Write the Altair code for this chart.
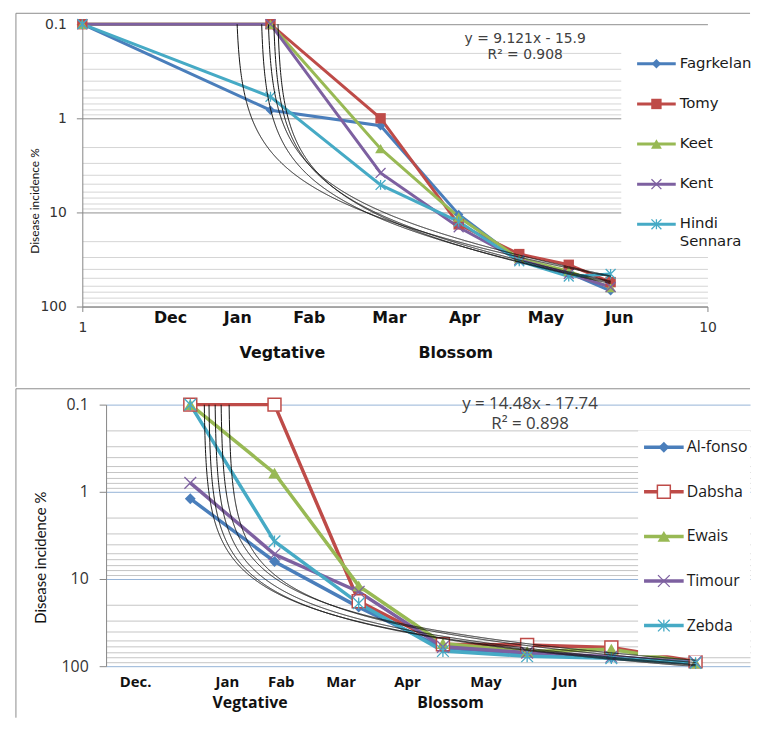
import altair as alt
import pandas as pd

# ---------------- top panel data ----------------
top_x = [1, 2, 3, 4, 5, 6, 7]
top_names = ["Fagrkelan", "Tomy", "Keet", "Kent", "Hindi Sennara"]
fagrkelan = [0.1, 0.82, 1.2, 10.5, 32, 44, 68]
tomy = [0.1, 0.1, 1.0, 13.4, 27.7, 36, 55]
keet = [0.1, 0.1, 2.1, 11.2, 31, 42, 63]
kent = [0.1, 0.1, 3.8, 14.4, 32, 45, 62]
hindi_sennara = [0.1, 0.59, 5.1, 12.5, 33, 48, 45]
top_months = ["Dec", "Jan", "Fab", "Mar", "Apr", "May", "Jun"]
top_month_x = [1.384, 1.773, 2.307, 3.099, 4.09, 5.516, 7.227]
top_stages = ["Vegtative", "Blossom"]
top_stage_x = [2.09, 3.958]
top_equation = ["y = 9.121x - 15.9", "R² = 0.908"]

# ---------------- bottom panel data ----------------
bot_x = [1, 2, 3, 4, 5, 6, 7]
bot_names = ["Al-fonso", "Dabsha", "Ewais", "Timour", "Zebda"]
al_fonso = [1.2, 6.3, 21, 62, 71, 80, 92]
dabsha = [0.1, 0.1, 18, 56, 57, 61, 88]
ewais = [0.1, 0.61, 12, 55, 68, 64, 92]
timour = [0.79, 5.2, 14, 60, 70, 78, 90]
zebda = [0.1, 3.7, 19, 67, 77, 81, 92]
bot_months = ["Dec.", "Jan", "Fab", "Mar", "Apr", "May", "Jun"]
bot_month_x = [0.35, 1.44, 2.08, 2.79, 3.58, 4.51, 5.45]
bot_stages = ["Vegtative", "Blossom"]
bot_stage_x = [1.71, 4.09]
bot_equation = ["y = 14.48x - 17.74", "R² = 0.898"]

# ---------------- axis ticks ----------------
major_ticks = [0.1, 1, 10, 100]
minor_mult = [2, 3, 4, 5, 6, 7, 8, 9]
grid_vals = sorted(major_ticks + [round(m * d, 6) for d in [0.1, 1, 10] for m in minor_mult])

colors = ["#4A7EBB", "#BE4B48", "#98B954", "#7D60A0", "#46AAC5"]
FRAME = "#8C8C8C"
MAJOR_TEST = "indexof([0.1, 1, 10, 100], datum.value) >= 0"
XPATH = "M-1,-1L1,1M-1,1L1,-1"
STARPATH = "M-1,-1L1,1M-1,1L1,-1M0,-1L0,1"


def long_df(names, xs, series):
    rows = []
    for n, vals in zip(names, series):
        for x, y in zip(xs, vals):
            rows.append({"series": n, "x": x, "y": y})
    return pd.DataFrame(rows)


def y_axis(font, size, pad, tick, major_col, minor_col, tfont, tsize, tx, ty):
    return alt.Axis(
        values=grid_vals,
        labelExpr=f"{MAJOR_TEST} ? format(datum.value, '~g') : ''",
        labelOverlap=False, labelFont=font, labelFontSize=size, labelColor="#333333",
        labelPadding=pad,
        tickSize={"condition": {"test": MAJOR_TEST, "value": tick}, "value": 0},
        tickColor="#868686", domainColor="#868686",
        gridColor={"condition": {"test": MAJOR_TEST, "value": major_col}, "value": minor_col},
        gridWidth=1,
        titleFont=tfont, titleFontSize=tsize, titleFontWeight="normal", titleColor="#111111",
        titleX=tx, titleY=ty, titleAngle=270, titleAlign="center", titleBaseline="middle",
    )


def make_panel(P):
    names = P["names"]
    df = long_df(names, P["x"], P["values"])

    def X(f):
        return alt.X(f, type="quantitative", scale=P["xscale"], axis=P["xaxis"], title=None)

    def Y(f):
        return alt.Y(f, type="quantitative", scale=P["yscale"], axis=P["yaxis"],
                     title="Disease incidence %")

    base = alt.Chart(df)
    frame = alt.Chart(alt.Data(values=[{}]))
    fx0, fx1, fy0, fy1 = P["frame"]
    top_rule = frame.mark_rule(color=FRAME, strokeWidth=1).encode(
        x=alt.value(fx0), x2=alt.value(fx1), y=alt.value(fy0))
    left_rule = frame.mark_rule(color=FRAME, strokeWidth=1).encode(
        x=alt.value(fx0), y=alt.value(fy0), y2=alt.value(fy1))

    lines = base.mark_line(strokeWidth=P["lw"]).encode(
        X("x"), Y("y"),
        color=alt.Color("series:N", scale=alt.Scale(domain=names, range=colors), legend=None),
        order="x:Q",
    )
    points = [
        base.transform_filter(alt.datum.series == n)
        .mark_point(opacity=1, color=c, **m)
        .encode(X("x"), Y("y"))
        for n, c, m in zip(names, colors, P["markers"])
    ]

    x0, x1 = min(P["x"]), max(P["x"])
    nstep = 3000
    step = (x1 - x0) / nstep
    trend = (
        base.transform_regression("x", "y", method="linear", groupby=["series"], params=True)
        .transform_calculate(grp="datum.keys[0]", seq=f"sequence(0, {nstep + 1})")
        .transform_flatten(["seq"])
        .transform_calculate(x=f"{x0} + datum.seq * {step}")
        .transform_calculate(y="datum.coef[0] + datum.coef[1] * datum.x")
        .transform_filter("datum.y > 0")
        .mark_line(color="#111111", strokeWidth=1, clip=True)
        .encode(X("x"), Y("y"), detail="grp:N")
    )

    months = alt.Chart(pd.DataFrame({"label": P["months"], "x": P["month_x"]})).mark_text(
        font=P["font"], fontSize=P["month_size"], fontWeight="bold", color="#111111",
        baseline="middle", align="center",
    ).encode(X("x"), y=alt.value(P["month_y"]), text="label:N")

    stages = alt.Chart(pd.DataFrame({"label": P["stages"], "x": P["stage_x"]})).mark_text(
        font=P["font"], fontSize=P["stage_size"], fontWeight="bold", color="#111111",
        baseline="middle", align="center",
    ).encode(X("x"), y=alt.value(P["stage_y"]), text="label:N")

    ex, ey = P["eq_pos"]
    eq = frame.mark_text(
        text=P["eq"], font=P["font"], fontSize=P["eq_size"], lineHeight=P["eq_lh"],
        color="#404040", baseline="middle", align="center",
    ).encode(
        x=alt.X(datum=ex, type="quantitative", scale=P["xscale"], axis=P["xaxis"], title=None),
        y=alt.Y(datum=ey, type="quantitative", scale=P["yscale"], axis=P["yaxis"],
                title="Disease incidence %"),
    )

    # legend box (Excel style: line with marker, label to the right)
    L = P["legend"]
    legend_layers = [frame.mark_rect(fill="white", stroke=None).encode(
        x=alt.value(L["box"][0]), x2=alt.value(L["box"][1]),
        y=alt.value(L["box"][2]), y2=alt.value(L["box"][3]))]
    sx0, sx1 = L["sym"]
    for i, (n, c, m) in enumerate(zip(names, colors, P["markers"])):
        yy = L["y0"] + i * L["dy"]
        legend_layers.append(frame.mark_rule(color=c, strokeWidth=P["lw"]).encode(
            x=alt.value(sx0), x2=alt.value(sx1), y=alt.value(yy)))
        legend_layers.append(frame.mark_point(opacity=1, color=c, **m).encode(
            x=alt.value((sx0 + sx1) / 2), y=alt.value(yy)))
        legend_layers.append(frame.mark_text(
            text=n.split(" "), align="left", baseline="line-top", lineHeight=L["lh"],
            dy=-L["lh"] / 2, font=P["font"], fontSize=L["size"], color="#1A1A1A",
        ).encode(x=alt.value(L["tx"]), y=alt.value(yy)))

    return alt.layer(top_rule, left_rule, lines, *points, trend, months, stages, eq,
                     *legend_layers).properties(width=P["w"], height=P["h"])


# ---------------- top panel ----------------
TW, TH = 631, 285
top_panel = make_panel(dict(
    names=top_names, x=top_x,
    values=[fagrkelan, tomy, keet, kent, hindi_sennara],
    xscale=alt.Scale(type="log", domain=[1, 10], nice=False),
    yscale=alt.Scale(type="log", domain=[0.1, 100], reverse=True, nice=False),
    xaxis=alt.Axis(values=[1, 10], labelExpr="format(datum.value, '~g')",
                   labelFont="DejaVu Sans", labelFontSize=14, labelColor="#333333",
                   labelPadding=9, tickSize=5, tickColor="#868686", domainColor="#868686",
                   grid=False, labelFlush=False, labelOverlap=False),
    yaxis=y_axis("DejaVu Sans", 14, 10, 6, "#8F8F8F", "#D4D4D4", "Lato", 12, -48, 178),
    w=TW, h=TH, lw=3,
    markers=[
        dict(shape="diamond", size=90, filled=True),
        dict(shape="square", size=110, filled=True),
        dict(shape="triangle-up", size=120, filled=True),
        dict(shape=XPATH, size=100, filled=False, strokeWidth=1.3),
        dict(shape=STARPATH, size=100, filled=False, strokeWidth=1.3),
    ],
    legend=dict(box=(544, 679, 27, 232), sym=(560, 599), y0=40, dy=40.5, tx=603, lh=18, size=15),
    months=top_months, month_x=top_month_x, month_y=297, month_size=16,
    stages=top_stages, stage_x=top_stage_x, stage_y=332, stage_size=16,
    eq=top_equation, eq_pos=(5.11, 0.1439), eq_size=14, eq_lh=16,
    font="DejaVu Sans",
    frame=(-67, 674, -11, 366),
))

# ---------------- bottom panel ----------------
BW, BH = 650, 264
bot_panel = make_panel(dict(
    names=bot_names, x=bot_x,
    values=[al_fonso, dabsha, ewais, timour, zebda],
    xscale=alt.Scale(type="linear", domain=[0, BW / 85], nice=False, zero=False),
    yscale=alt.Scale(type="log", domain=[0.1, 100], reverse=True, nice=False),
    xaxis=alt.Axis(labels=False, ticks=False, domain=False, grid=False),
    yaxis=y_axis("Open Sans", 16, 11, 7, "#95B3D7", "#C4C4C4", "Lato", 15, -66, 154),
    w=BW, h=BH, lw=3.5,
    markers=[
        dict(shape="diamond", size=120, filled=True),
        dict(shape="square", size=170, filled=True, fill="white", stroke="#BE4B48", strokeWidth=1.5),
        dict(shape="triangle-up", size=160, filled=True),
        dict(shape=XPATH, size=140, filled=False, strokeWidth=1.3),
        dict(shape=STARPATH, size=140, filled=False, strokeWidth=1.3),
    ],
    legend=dict(box=(537, 650, 26, 253), sym=(543, 583), y0=43, dy=45, tx=586, lh=20, size=16),
    months=bot_months, month_x=bot_month_x, month_y=280, month_size=15,
    stages=bot_stages, stage_x=bot_stage_x, stage_y=301, stage_size=16,
    eq=bot_equation, eq_pos=(5.035, 0.0974), eq_size=17, eq_lh=21,
    font="Open Sans",
    frame=(-91, BW, -16, 316),
))

spacer = alt.Chart(alt.Data(values=[{}])).mark_point(opacity=0).encode(
    x=alt.value(0), y=alt.value(0)).properties(width=1, height=1)

ind = dict(color="independent")
row1 = alt.hconcat(spacer, top_panel, spacing=0).resolve_scale(**ind)
row2 = alt.hconcat(spacer, bot_panel, spacing=0).resolve_scale(**ind)

chart = (
    alt.vconcat(row1, row2, spacing=0)
    .resolve_scale(**ind)
    .properties(padding={"left": 1, "top": 1, "right": 0, "bottom": 0}, background="white")
    .configure_view(stroke=None)
)

chart.save("out.html", embed_options={"renderer": "svg", "actions": False})
